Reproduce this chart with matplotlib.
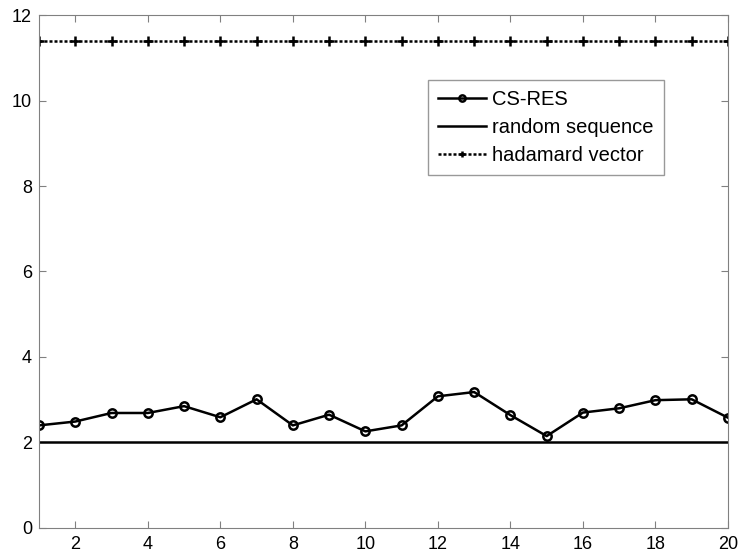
import numpy as np
import matplotlib.pyplot as plt

plt.rcParams['font.family'] = ['Liberation Sans', 'DejaVu Sans']

x = np.arange(1, 21)
cs_res = [2.40, 2.49, 2.69, 2.69, 2.85, 2.59, 3.01, 2.40, 2.65, 2.26,
          2.40, 3.08, 3.18, 2.64, 2.15, 2.70, 2.80, 2.99, 3.01, 2.58]
random_seq = [2.0] * 20
hadamard = [11.4] * 20

fig = plt.figure(figsize=(7.42, 5.56), dpi=100)
ax = fig.add_axes([0.0526, 0.0504, 0.9285, 0.9226])

ax.plot(x, cs_res, color='black', linewidth=1.8, marker='o', markersize=6,
        markerfacecolor='none', markeredgewidth=1.8, label='CS-RES')
ax.plot(x, random_seq, color='black', linewidth=1.8, label='random sequence')
ax.plot(x, hadamard, color='black', linewidth=1.8, linestyle=(0, (1.2, 0.8)),
        marker='+', markersize=7, markeredgewidth=1.8, label='hadamard vector')

ax.set_xlim(1, 20)
ax.set_ylim(0, 12)
ax.set_xticks(range(2, 21, 2))
ax.set_yticks(range(0, 13, 2))
ax.tick_params(direction='in', top=True, right=True, labelsize=13,
               color='#808080', length=5)
ax.tick_params(axis='x', pad=6)
ax.tick_params(axis='y', pad=5)
for s in ax.spines.values():
    s.set_color('#808080')

leg = ax.legend(loc='upper right', bbox_to_anchor=(0.907, 0.873), fontsize=14.5,
                frameon=True, fancybox=False, handlelength=2.4, borderpad=0.5,
                labelspacing=0.45, handletextpad=0.3, borderaxespad=0)
leg.get_frame().set_edgecolor('#808080')
leg.get_frame().set_linewidth(1.0)
for ln in leg.get_lines():
    ln.set_markersize(4.5)

fig.savefig('out.png', dpi=100)
